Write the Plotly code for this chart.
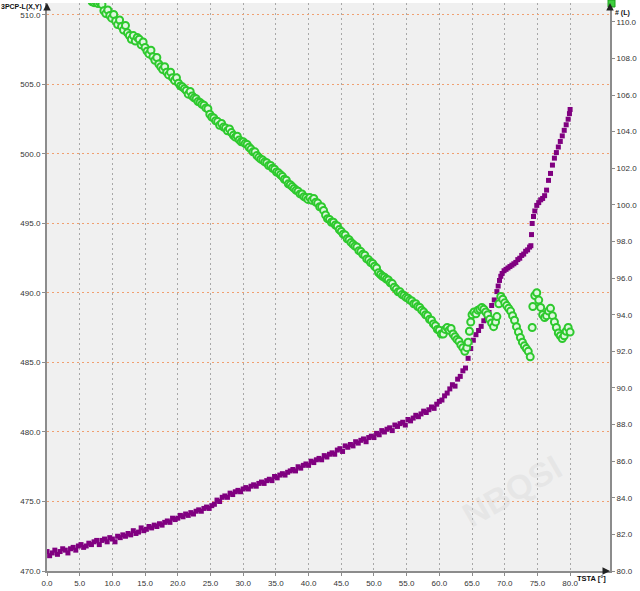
import plotly.graph_objects as go

# ---- data: purple series (left axis, 3PCP-L(X,Y)) ----
purple_x = [0.0,0.4,0.8,1.2,1.6,2.0,2.4,2.8,3.2,3.6,4.0,4.4,4.8,5.2,5.6,6.0,6.4,6.8,7.2,7.6,
            8.0,8.4,8.8,9.2,9.6,10.0,10.4,10.8,11.2,11.6,12.0,12.4,12.8,13.2,13.6,14.0,14.4,14.8,15.2,15.6,
            16.0,16.4,16.8,17.2,17.6,18.0,18.4,18.8,19.2,19.6,20.0,20.4,20.8,21.2,21.6,22.0,22.4,22.8,23.2,23.6,
            24.0,24.4,24.8,25.2,25.6,26.0,26.4,26.8,27.2,27.6,28.0,28.4,28.8,29.2,29.6,30.0,30.4,30.8,31.2,31.6,
            32.0,32.4,32.8,33.2,33.6,34.0,34.4,34.8,35.2,35.6,36.0,36.4,36.8,37.2,37.6,38.0,38.4,38.8,39.2,39.6,
            40.0,40.4,40.8,41.2,41.6,42.0,42.4,42.8,43.2,43.6,44.0,44.4,44.8,45.2,45.6,46.0,46.4,46.8,47.2,47.6,
            48.0,48.4,48.8,49.2,49.6,50.0,50.4,50.8,51.2,51.6,52.0,52.4,52.8,53.2,53.6,54.0,54.4,54.8,55.2,55.6,
            56.0,56.4,56.8,57.2,57.6,58.0,58.4,58.8,59.2,59.6,60.0,60.4,60.8,61.2,61.6,62.0,62.4,62.8,63.2,63.6,
            64.0,64.4,64.8,65.2,65.6,66.0,66.4,66.8,67.2,67.6,68.0,68.4,68.8,69.0,69.2,69.4,69.6,69.9,70.2,70.5,
            70.8,71.1,71.4,71.7,72.0,72.3,72.6,72.9,73.2,73.5,73.8,74.0,74.1,74.2,74.4,74.6,74.9,75.2,75.5,75.8,
            76.1,76.4,76.7,77.0,77.3,77.6,77.9,78.2,78.5,78.8,79.1,79.4,79.7,79.9,80.0]
purple_y = [471.4,471.1,471.3,471.5,471.2,471.4,471.6,471.5,471.3,471.6,471.7,471.5,471.8,471.9,471.7,471.8,472.0,471.9,472.1,472.2,
            471.9,472.2,472.3,472.1,472.4,472.3,472.1,472.5,472.4,472.6,472.5,472.7,472.6,472.9,472.7,472.8,473.1,472.9,473.0,473.2,
            473.1,473.3,473.2,473.4,473.3,473.5,473.6,473.5,473.8,473.7,473.8,474.0,473.9,474.1,474.0,474.2,474.1,474.3,474.4,474.3,
            474.5,474.6,474.5,474.7,474.8,475.1,475.0,475.3,475.4,475.3,475.6,475.5,475.7,475.8,475.7,475.9,476.0,475.9,476.1,476.2,
            476.1,476.3,476.4,476.3,476.5,476.6,476.5,476.8,476.7,476.9,477.0,476.9,477.1,477.2,477.3,477.2,477.5,477.4,477.6,477.7,
            477.6,477.9,477.8,478.0,478.1,478.0,478.3,478.2,478.4,478.5,478.4,478.7,478.8,478.6,479.0,478.9,479.1,479.0,479.3,479.2,
            479.4,479.5,479.3,479.6,479.7,479.6,479.9,479.8,480.1,480.0,480.2,480.3,480.1,480.5,480.4,480.6,480.7,480.5,480.9,480.8,
            481.0,481.2,481.1,481.3,481.5,481.4,481.6,481.8,481.7,482.0,482.2,482.3,482.6,482.8,483.1,483.4,483.3,483.8,484.0,484.4,
            484.6,485.3,486.0,486.6,487.0,487.3,487.6,488.0,488.3,488.6,489.1,489.5,490.1,490.5,490.9,491.2,491.4,491.6,491.7,491.8,
            491.9,492.0,492.1,492.2,492.4,492.5,492.7,492.8,493.0,493.1,493.3,493.4,494.2,495.0,495.5,495.9,496.3,496.5,496.7,496.8,
            497.0,497.4,498.1,498.6,499.2,499.7,500.1,500.5,500.9,501.3,501.7,502.1,502.5,502.9,503.2]

# ---- data: green series (right axis, # (L)) ----
green_x = [6.9,7.2,7.5,7.8,8.1,8.4,8.7,9.0,9.3,9.6,9.9,10.2,10.5,10.8,11.1,11.4,11.7,12.0,12.3,12.6,
           12.9,13.2,13.5,13.8,14.1,14.4,14.7,15.0,15.3,15.6,15.9,16.2,16.5,16.8,17.1,17.4,17.7,18.0,18.3,18.6,
           18.9,19.2,19.5,19.8,20.1,20.4,20.7,21.0,21.3,21.6,21.9,22.2,22.5,22.8,23.1,23.4,23.7,24.0,24.3,24.6,
           24.9,25.2,25.5,25.8,26.1,26.4,26.7,27.0,27.3,27.6,27.9,28.2,28.5,28.8,29.1,29.4,29.7,30.0,30.3,30.6,
           30.9,31.2,31.5,31.8,32.1,32.4,32.7,33.0,33.3,33.6,33.9,34.2,34.5,34.8,35.1,35.4,35.7,36.0,36.3,36.6,
           36.9,37.2,37.5,37.8,38.1,38.4,38.7,39.0,39.3,39.6,39.9,40.2,40.5,40.8,41.1,41.4,41.7,42.0,42.3,42.6,
           42.9,43.2,43.5,43.8,44.1,44.4,44.7,45.0,45.3,45.6,45.9,46.2,46.5,46.8,47.1,47.4,47.7,48.0,48.3,48.6,
           48.9,49.2,49.5,49.8,50.1,50.4,50.7,51.0,51.3,51.6,51.9,52.2,52.5,52.8,53.1,53.4,53.7,54.0,54.3,54.6,
           54.9,55.2,55.5,55.8,56.1,56.4,56.7,57.0,57.3,57.6,57.9,58.2,58.5,58.8,59.1,59.4,59.7,60.0,60.3,60.6,
           60.9,61.2,61.5,61.8,62.1,62.4,62.7,63.0,63.3,63.6,63.9,64.2,64.4,64.6,64.8,65.0,65.3,65.6,65.9,66.2,
           66.5,66.8,67.1,67.4,67.7,68.0,68.3,68.6,68.8,69.1,69.4,69.7,70.0,70.3,70.6,70.9,71.2,71.5,71.8,72.1,
           72.4,72.7,73.0,73.3,73.6,73.9,74.2,74.3,74.6,74.9,75.2,75.5,75.8,76.1,76.4,76.7,77.0,77.3,77.6,77.9,
           78.2,78.5,78.8,79.1,79.4,79.7,80.0]
green_y = [111.1,111.05,111.1,111.0,111.05,110.95,110.6,110.45,110.65,110.35,110.2,110.4,110.05,109.85,110.1,109.75,109.55,109.8,109.4,109.25,
           109.05,109.25,108.95,109.15,109.05,108.75,108.9,108.6,108.4,108.25,108.45,108.1,107.9,108.05,107.7,107.55,107.4,107.55,107.25,107.1,
           107.25,106.95,106.8,106.95,106.65,106.5,106.45,106.35,106.25,106.05,106.2,105.95,105.85,105.8,105.65,105.6,105.5,105.45,105.3,105.25,
           104.95,104.8,104.75,104.6,104.55,104.35,104.45,104.25,104.2,104.05,104.15,103.95,103.8,103.7,103.75,103.55,103.45,103.45,103.35,103.3,
           103.15,103.05,102.9,102.9,102.7,102.6,102.5,102.45,102.35,102.3,102.15,102.15,102.0,101.95,101.8,101.75,101.65,101.55,101.4,101.35,
           101.15,101.1,101.0,100.9,100.8,100.75,100.6,100.6,100.45,100.4,100.3,100.4,100.25,100.35,100.15,100.1,99.9,99.9,99.7,99.45,
           99.25,99.2,99.05,99.05,98.9,98.85,98.65,98.55,98.4,98.35,98.15,98.1,97.95,97.85,97.75,97.7,97.5,97.45,97.3,97.25,
           97.05,97.0,96.85,96.8,96.65,96.55,96.3,96.2,96.1,96.05,95.95,95.9,95.75,95.7,95.5,95.4,95.25,95.25,95.1,95.05,
           94.95,94.9,94.8,94.75,94.6,94.6,94.45,94.4,94.25,94.15,94.0,93.95,93.75,93.7,93.5,93.4,93.2,93.15,92.95,92.95,
           93.2,93.3,93.15,93.25,92.95,92.8,92.65,92.55,92.35,92.2,92.0,92.2,92.5,93.1,93.6,94.0,94.15,94.05,94.25,94.3,
           94.4,94.3,94.15,94.0,93.75,93.55,93.35,93.6,93.9,94.6,95.0,94.85,94.65,94.5,94.35,94.2,93.95,93.7,93.35,93.05,
           92.75,92.5,92.3,92.15,92.0,91.7,93.3,94.45,95.05,95.2,94.8,94.4,94.0,93.85,93.95,94.2,94.35,93.95,93.6,93.3,
           93.0,92.85,92.7,92.85,93.1,93.3,93.05]

left_ticks = [470, 475, 480, 485, 490, 495, 500, 505, 510]
right_ticks = [80, 82, 84, 86, 88, 90, 92, 94, 96, 98, 100, 102, 104, 106, 108, 110]
x_ticks = [0, 5, 10, 15, 20, 25, 30, 35, 40, 45, 50, 55, 60, 65, 70, 75, 80]

FONT = "Liberation Sans, Arial, sans-serif"
AXIS_COLOR = "#8c8c8c"
TICKFONT = dict(size=8, color="#333333")

fig = go.Figure()
fig.add_trace(go.Scatter(
    x=purple_x, y=purple_y, mode="markers", yaxis="y",
    marker=dict(symbol="square", size=5, color="#800080", line=dict(width=0)),
    showlegend=False, hoverinfo="skip"))
fig.add_trace(go.Scatter(
    x=green_x, y=green_y, mode="markers", yaxis="y2",
    marker=dict(symbol="circle", size=7, color="#dff7df",
                line=dict(width=2, color="#2ec92e")),
    showlegend=False, hoverinfo="skip"))

fig.update_layout(
    width=640, height=591,
    margin=dict(l=47, r=25, t=3, b=16),
    paper_bgcolor="white", plot_bgcolor="#f0f0f0",
    font=dict(family=FONT, size=8, color="#333333"),
    xaxis=dict(range=[0, 86.1], tickvals=x_ticks,
               ticktext=[f"{v:.1f}" for v in x_ticks],
               showgrid=True, gridcolor="#a8a8a8", griddash="2px,3px", gridwidth=1,
               showline=True, linecolor=AXIS_COLOR, linewidth=2,
               ticks="outside", ticklen=3, tickcolor=AXIS_COLOR,
               zeroline=False, tickfont=TICKFONT),
    yaxis=dict(range=[470, 510.86], tickvals=left_ticks,
               ticktext=[f"{v:.1f}" for v in left_ticks],
               showgrid=True, gridcolor="#f0a070", griddash="2px,3px", gridwidth=1,
               showline=True, linecolor=AXIS_COLOR, linewidth=2,
               ticks="outside", ticklen=3, tickcolor=AXIS_COLOR,
               zeroline=False, tickfont=TICKFONT),
    yaxis2=dict(range=[80, 111.03], overlaying="y", side="right",
                tickvals=right_ticks, ticktext=[f"{v:.1f}" for v in right_ticks],
                showgrid=False, showline=True, linecolor=AXIS_COLOR, linewidth=2,
                ticks="outside", ticklen=3, tickcolor=AXIS_COLOR,
                zeroline=False, tickfont=TICKFONT),
)

# axis titles
fig.add_annotation(text="<b>3PCP-L(X,Y)</b>", xref="paper", yref="paper", x=0, y=1,
                   xanchor="right", yanchor="top", xshift=-3, yshift=2,
                   showarrow=False, font=dict(size=7, color="#111111"))
fig.add_annotation(text="<b># (L)</b>", xref="paper", yref="paper", x=1, y=1,
                   xanchor="left", yanchor="top", xshift=3, yshift=-4,
                   showarrow=False, font=dict(size=7, color="#111111"))
fig.add_annotation(text="<b>TSTA [°]</b>", xref="paper", yref="paper", x=1, y=0,
                   xanchor="right", yanchor="top", xshift=-2, yshift=-1,
                   showarrow=False, font=dict(size=7.5, color="#111111"))

# legend marker for green series near right axis title
fig.add_shape(type="rect", xref="paper", yref="paper", xsizemode="pixel", ysizemode="pixel",
              xanchor=1, yanchor=1, x0=-2, x1=5, y0=3, y1=-4,
              fillcolor="#3fcf3f", line=dict(color="#1f9f1f", width=1))

# arrowheads on axes
for xx in [0, 1]:
    fig.add_annotation(xref="paper", yref="paper", x=xx, y=1, ax=0, ay=8,
                       showarrow=True, arrowhead=2, arrowsize=1, arrowwidth=1.5,
                       arrowcolor="#222222", text="")
fig.add_annotation(xref="paper", yref="paper", x=1, y=0, ax=-8, ay=0,
                   showarrow=True, arrowhead=2, arrowsize=1, arrowwidth=1.5,
                   arrowcolor="#222222", text="")

# faint watermark
fig.add_annotation(text="<b>NBQSI</b>", xref="paper", yref="paper", x=0.93, y=0.06,
                   showarrow=False, textangle=-30,
                   font=dict(size=34, color="rgba(200,200,200,0.25)"))

fig.write_html("out.html", config={"displayModeBar": False},
               post_script="document.body.style.margin='0';")
